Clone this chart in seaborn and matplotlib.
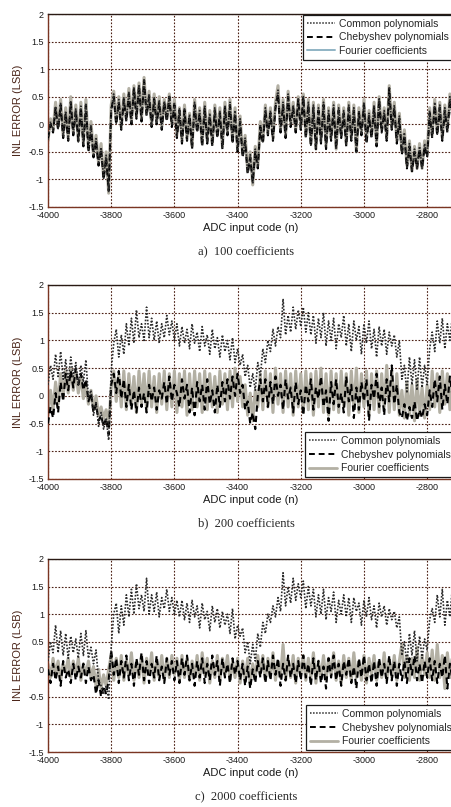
import numpy as np
import pandas as pd
import matplotlib
matplotlib.use("Agg")
import matplotlib.pyplot as plt
import seaborn as sns
from matplotlib.lines import Line2D

# ---------------- data (INL error, LSB), sampled every 8 codes from -4000 to -2720 ----------------
codes = np.arange(-4000, -2719, 8)

a_fourier = [
    -0.30, 0.10, -0.10, 0.40, -0.05, 0.45, -0.20, 0.30, -0.25, 0.50,
    -0.15, 0.35, -0.30, 0.40, -0.35, 0.45, -0.45, 0.05, -0.55, -0.20,
    -0.70, -0.35, -0.95, -0.50, -1.25, 0.35, 0.60, 0.05, 0.50, -0.05,
    0.55, 0.10, 0.65, 0.05, 0.70, 0.15, 0.75, 0.10, 0.85, 0.20,
    0.60, 0.00, 0.55, 0.05, 0.50, -0.05, 0.45, 0.10, 0.55, 0.00,
    0.45, -0.20, 0.30, -0.30, 0.35, -0.25, 0.20, -0.40, 0.45, -0.10,
    0.30, -0.35, 0.40, -0.30, 0.25, -0.35, 0.35, -0.20, 0.30, -0.40,
    0.40, -0.15, 0.45, -0.30, 0.30, -0.45, 0.15, -0.55, -0.20, -0.85,
    -0.50, -1.10, -0.40, -0.75, 0.05, -0.30, 0.35, -0.15, 0.30, -0.25,
    0.40, 0.70, -0.10, 0.45, -0.20, 0.60, 0.00, 0.40, -0.10, 0.50,
    -0.05, 0.55, -0.20, 0.45, -0.35, 0.40, -0.45, 0.35, -0.30, 0.45,
    -0.40, 0.30, -0.25, 0.40, -0.45, 0.35, -0.20, 0.30, -0.35, 0.40,
    -0.25, 0.35, -0.50, 0.30, -0.15, 0.45, -0.30, 0.25, -0.20, 0.40,
    -0.35, 0.50, -0.10, 0.30, -0.25, 0.70, -0.05, 0.40, -0.30, 0.20,
    -0.50, -0.10, -0.75, -0.30, -0.85, -0.40, -0.80, -0.35, -0.80, -0.30,
    -0.55, 0.30, -0.20, 0.45, -0.15, 0.40, -0.25, 0.35, -0.10, 0.55,
    0.20]

a_cheb = [
    -0.25, 0.00, -0.15, 0.30, -0.10, 0.35, -0.25, 0.20, -0.30, 0.40,
    -0.20, 0.25, -0.30, 0.30, -0.40, 0.35, -0.50, -0.05, -0.60, -0.30,
    -0.75, -0.45, -1.00, -0.60, -1.20, 0.25, 0.50, 0.00, 0.40, -0.10,
    0.45, 0.05, 0.55, 0.00, 0.65, 0.10, 0.70, 0.05, 0.80, 0.15,
    0.50, -0.05, 0.45, 0.00, 0.40, -0.10, 0.40, 0.05, 0.50, -0.05,
    0.35, -0.25, 0.25, -0.35, 0.25, -0.30, 0.15, -0.45, 0.35, -0.15,
    0.20, -0.40, 0.30, -0.35, 0.15, -0.40, 0.25, -0.25, 0.20, -0.45,
    0.30, -0.20, 0.35, -0.35, 0.20, -0.50, 0.05, -0.60, -0.30, -0.90,
    -0.60, -1.05, -0.50, -0.80, -0.05, -0.35, 0.25, -0.20, 0.20, -0.30,
    0.30, 0.55, -0.15, 0.35, -0.25, 0.50, -0.05, 0.30, -0.15, 0.45,
    -0.10, 0.50, -0.25, 0.35, -0.40, 0.30, -0.45, 0.25, -0.35, 0.35,
    -0.45, 0.20, -0.30, 0.30, -0.45, 0.25, -0.25, 0.20, -0.40, 0.30,
    -0.30, 0.25, -0.50, 0.20, -0.20, 0.35, -0.35, 0.15, -0.25, 0.30,
    -0.40, 0.45, -0.15, 0.20, -0.30, 0.65, -0.10, 0.30, -0.35, 0.10,
    -0.55, -0.20, -0.80, -0.40, -0.85, -0.50, -0.80, -0.45, -0.80, -0.40,
    -0.60, 0.20, -0.25, 0.35, -0.20, 0.30, -0.30, 0.25, -0.15, 0.45,
    0.10]

a_common = [
    -0.28, 0.05, -0.12, 0.32, -0.08, 0.38, -0.22, 0.24, -0.28, 0.42,
    -0.18, 0.28, -0.32, 0.33, -0.38, 0.38, -0.48, -0.02, -0.58, -0.26,
    -0.72, -0.42, -0.98, -0.56, -1.22, 0.28, 0.55, 0.02, 0.45, -0.08,
    0.48, 0.08, 0.58, 0.02, 0.68, 0.12, 0.72, 0.08, 0.82, 0.18,
    0.55, -0.02, 0.48, 0.02, 0.44, -0.08, 0.42, 0.08, 0.52, -0.02,
    0.40, -0.22, 0.28, -0.32, 0.30, -0.28, 0.18, -0.42, 0.40, -0.12,
    0.25, -0.38, 0.35, -0.32, 0.20, -0.38, 0.30, -0.22, 0.25, -0.42,
    0.35, -0.18, 0.40, -0.32, 0.25, -0.48, 0.10, -0.58, -0.25, -0.88,
    -0.55, -1.08, -0.45, -0.78, 0.00, -0.32, 0.30, -0.18, 0.25, -0.28,
    0.35, 0.62, -0.12, 0.40, -0.22, 0.55, -0.02, 0.35, -0.12, 0.48,
    -0.08, 0.52, -0.22, 0.40, -0.38, 0.35, -0.45, 0.30, -0.32, 0.40,
    -0.42, 0.25, -0.28, 0.35, -0.45, 0.30, -0.22, 0.25, -0.38, 0.35,
    -0.28, 0.30, -0.50, 0.25, -0.18, 0.40, -0.32, 0.20, -0.22, 0.35,
    -0.38, 0.48, -0.12, 0.25, -0.28, 0.68, -0.08, 0.35, -0.32, 0.15,
    -0.52, -0.15, -0.78, -0.35, -0.85, -0.45, -0.80, -0.40, -0.80, -0.35,
    -0.58, 0.25, -0.22, 0.40, -0.18, 0.35, -0.28, 0.30, -0.12, 0.50,
    0.15]

b_common = ([0.20, 0.55, 0.30, 0.75, 0.35, 0.80, 0.30, 0.65, 0.25, 0.70, 0.35, 0.60, 0.20, 0.55, 0.25, 0.65]
            + [-0.05, 0.10, -0.35, -0.10, -0.55, -0.30, -0.60, -0.40, -0.80]
            + [0.45]
            + [0.95, 1.20, 0.70, 1.10, 0.75, 1.30, 0.90, 1.40, 0.95, 1.55, 1.05, 1.30, 1.00, 1.60, 1.05, 1.40, 1.00, 1.35, 0.95, 1.30, 1.05, 1.45, 1.10, 1.35, 1.00]
            + [1.30, 0.90, 1.25, 0.95, 1.20, 0.85, 1.30, 0.95, 1.15, 0.80, 1.25, 0.90, 1.10, 0.75, 1.20, 0.85, 1.05, 0.70, 1.10, 0.80, 1.00, 0.65, 1.05, 0.60, 0.85]
            + [0.55, 0.75, 0.35, 0.55, 0.15, 0.40, 0.10, 0.60, 0.35]
            + [0.85, 0.60, 1.00, 0.80, 1.20, 0.90, 1.25, 1.05, 1.75, 1.10, 1.45, 1.15, 1.60, 1.20, 1.55, 1.25]
            + [1.60, 1.15, 1.50, 1.10, 1.45, 0.95, 1.40, 1.05, 1.50, 0.90, 1.35, 1.00, 1.40, 0.85, 1.30, 1.05, 1.45, 0.90, 1.30, 0.80,
               1.35, 1.00, 1.25, 0.75, 1.30, 0.95, 1.35, 0.85, 1.20, 0.70, 1.25, 0.90, 1.20, 0.75, 1.15, 0.90, 1.10, 0.70, 1.00]
            + [0.30, 0.55, 0.05, 0.70, 0.20, 0.65, 0.10, 0.70, 0.15, 0.55, 0.20]
            + [0.85, 1.15, 0.80, 1.35, 0.95, 1.40, 0.85, 1.30, 1.00, 1.45])

b_cheb = ([-0.50, -0.20, -0.40, 0.05, -0.30, 0.25, -0.10, 0.40, 0.10, 0.45, 0.15, 0.50, 0.20, 0.40, 0.10, 0.30]
          + [-0.10, 0.05, -0.30, -0.15, -0.45, -0.35, -0.55, -0.40, -0.70]
          + [0.20]
          + [0.40, 0.05, 0.45, -0.05, 0.30, -0.20, 0.20, -0.25, 0.10, -0.30, 0.15, -0.20, 0.05, -0.30, 0.20, -0.10, 0.15, -0.25, 0.10, -0.05, 0.25, -0.15, 0.35, -0.10, 0.20]
          + [0.05, -0.20, 0.30, -0.05, 0.20, -0.30, 0.15, -0.35, 0.25, -0.10, 0.20, -0.25, 0.30, -0.15, 0.10, -0.30, 0.20, -0.20, 0.25, -0.10, 0.30, -0.05, 0.35, 0.00, 0.40]
          + [0.05, 0.20, -0.25, -0.10, -0.50, -0.30, -0.60, 0.00, 0.30]
          + [-0.10, 0.30, -0.20, 0.25, -0.15, 0.35, 0.00, 0.20, -0.25, 0.30, -0.05, 0.15, -0.30, 0.25, -0.15, 0.10]
          + [-0.35, 0.20, -0.10, 0.30, -0.25, 0.15, -0.05, 0.35, -0.20, 0.10, -0.45, 0.25, -0.15, 0.30, -0.20, 0.05, -0.30, 0.35, -0.10, 0.20,
             -0.40, 0.15, -0.25, 0.25, -0.10, 0.30, -0.45, 0.20, -0.05, 0.40, -0.20, 0.15, -0.35, 0.30, -0.10, 0.55, -0.15, 0.20, -0.30]
          + [-0.40, -0.15, -0.45, -0.20, -0.40, -0.10, -0.45, -0.25, -0.40, -0.15, -0.35]
          + [0.10, -0.20, 0.30, -0.10, 0.35, -0.25, 0.20, -0.15, 0.35, 0.00])

b_fourier = ([-0.35, 0.10, -0.25, 0.25, -0.15, 0.40, 0.00, 0.45, 0.05, 0.50, 0.10, 0.45, 0.05, 0.35, -0.05, 0.20]
             + [-0.15, 0.10, -0.25, 0.00, -0.35, -0.20, -0.40, -0.25, -0.55]
             + [0.15]
             + [0.45, -0.10, 0.40, -0.20, 0.45, -0.25, 0.40, -0.20, 0.35, -0.30, 0.45, -0.15, 0.40, -0.25, 0.45, -0.20, 0.35, -0.30, 0.40, -0.15, 0.45, -0.25, 0.40, -0.20, 0.45]
             + [-0.30, 0.40, -0.20, 0.45, -0.35, 0.40, -0.25, 0.45, -0.20, 0.40, -0.30, 0.45, -0.25, 0.40, -0.20, 0.35, -0.30, 0.45, -0.15, 0.40, -0.25, 0.45, -0.20, 0.50, -0.10]
             + [0.35, -0.20, 0.20, -0.35, 0.05, -0.45, 0.10, -0.20, 0.40]
             + [-0.25, 0.45, -0.20, 0.40, -0.30, 0.50, -0.15, 0.40, -0.30, 0.45, -0.20, 0.40, -0.35, 0.45, -0.20, 0.40]
             + [-0.30, 0.45, -0.25, 0.40, -0.35, 0.45, -0.20, 0.50, -0.30, 0.40, -0.35, 0.45, -0.25, 0.40, -0.30, 0.45, -0.20, 0.40, -0.35, 0.45,
                -0.25, 0.50, -0.30, 0.40, -0.20, 0.45, -0.35, 0.40, -0.25, 0.45, -0.30, 0.40, -0.20, 0.55, -0.30, 0.45, -0.25, 0.40, -0.35]
             + [0.10, -0.40, 0.25, -0.35, 0.20, -0.45, 0.30, -0.35, 0.15, -0.40, 0.20]
             + [-0.25, 0.45, -0.20, 0.40, -0.30, 0.45, -0.15, 0.40, -0.25, 0.35])

c_common = ([0.15, 0.50, 0.30, 0.80, 0.30, 0.70, 0.25, 0.65, 0.20, 0.60, 0.30, 0.55, 0.20, 0.65, 0.25, 0.70]
            + [0.20, 0.40, 0.10, 0.35, -0.20, -0.30, -0.45, -0.30, -0.55]
            + [0.40]
            + [1.00, 1.20, 0.65, 1.15, 0.80, 1.35, 0.95, 1.45, 1.00, 1.55, 1.10, 1.35, 1.05, 1.65, 1.00, 1.35, 1.05, 1.40, 0.95, 1.30, 1.10, 1.45, 1.05, 1.30, 1.00]
            + [1.25, 0.95, 1.25, 0.90, 1.20, 0.85, 1.25, 0.95, 1.15, 0.75, 1.20, 0.90, 1.05, 0.70, 1.15, 0.85, 1.10, 0.75, 1.05, 0.80, 1.00, 0.65, 1.10, 0.55, 0.80]
            + [0.60, 0.75, 0.30, 0.50, 0.10, 0.45, 0.15, 0.65, 0.40]
            + [0.85, 0.65, 1.00, 0.85, 1.15, 0.95, 1.30, 1.05, 1.75, 1.15, 1.50, 1.20, 1.65, 1.25, 1.55, 1.30]
            + [1.60, 1.10, 1.50, 1.15, 1.45, 0.95, 1.35, 1.00, 1.45, 0.90, 1.30, 1.05, 1.40, 0.85, 1.25, 1.00, 1.35, 0.95, 1.30, 0.85,
               1.30, 1.05, 1.20, 0.80, 1.25, 0.95, 1.30, 0.90, 1.15, 0.75, 1.20, 0.95, 1.15, 0.80, 1.10, 0.90, 1.05, 0.75, 0.95]
            + [0.25, 0.50, 0.10, 0.65, 0.25, 0.70, 0.15, 0.60, 0.20, 0.55, 0.35]
            + [0.90, 1.10, 0.85, 1.35, 0.95, 1.45, 0.80, 1.25, 0.95, 1.50])

c_cheb = ([0.00, -0.25, 0.10, -0.20, 0.05, -0.30, 0.15, -0.15, 0.00, -0.25, 0.10, -0.20, 0.05, -0.15, 0.10, -0.25]
          + [0.05, -0.20, -0.10, -0.45, -0.20, -0.50, -0.30, -0.45, -0.20]
          + [0.35]
          + [-0.10, 0.20, -0.25, 0.15, -0.15, 0.25, -0.20, 0.10, -0.30, 0.20, -0.10, 0.30, -0.20, 0.15, -0.25, 0.10, -0.15, 0.25, -0.20, 0.05, -0.25, 0.20, -0.10, 0.15, -0.20]
          + [0.15, -0.25, 0.20, -0.10, 0.25, -0.20, 0.10, -0.30, 0.15, -0.15, 0.20, -0.25, 0.10, -0.20, 0.25, -0.10, 0.15, -0.30, 0.20, -0.15, 0.10, -0.25, 0.20, -0.10, 0.15]
          + [-0.20, 0.10, -0.30, 0.05, -0.35, 0.00, -0.25, 0.15, -0.15]
          + [0.20, -0.25, 0.15, -0.20, 0.25, -0.10, 0.20, -0.30, 0.10, -0.20, 0.25, -0.15, 0.10, -0.25, 0.15, -0.20]
          + [0.25, -0.15, 0.10, -0.30, 0.20, -0.20, 0.15, -0.25, 0.05, -0.35, 0.20, -0.15, 0.25, -0.20, 0.10, -0.30, 0.15, -0.10, 0.20, -0.25,
             0.05, -0.35, 0.20, -0.15, 0.25, -0.20, 0.10, -0.25, 0.15, -0.30, 0.20, -0.15, 0.10, -0.25, 0.25, -0.20, 0.15, -0.30, 0.10]
          + [-0.20, 0.15, -0.25, 0.20, -0.10, 0.25, -0.20, 0.10, -0.25, 0.15, -0.15]
          + [0.20, -0.20, 0.15, -0.25, 0.10, -0.15, 0.25, -0.35, 0.10, -0.20])

c_fourier = ([0.10, -0.15, 0.20, -0.10, 0.15, -0.20, 0.10, -0.05, 0.20, -0.15, 0.15, -0.10, 0.20, -0.20, 0.10, -0.10]
             + [0.15, -0.15, 0.05, -0.30, 0.00, -0.35, -0.10, -0.30, 0.00]
             + [0.25]
             + [-0.20, 0.20, -0.15, 0.25, -0.20, 0.15, -0.10, 0.30, -0.20, 0.15, -0.15, 0.25, -0.25, 0.20, -0.10, 0.30, -0.20, 0.15, -0.15, 0.25, -0.20, 0.20, -0.15, 0.25, -0.10]
             + [0.20, -0.20, 0.25, -0.15, 0.20, -0.20, 0.15, -0.15, 0.25, -0.20, 0.30, -0.10, 0.20, -0.25, 0.15, -0.15, 0.25, -0.20, 0.20, -0.10, 0.25, -0.20, 0.15, -0.15, 0.20]
             + [-0.25, 0.15, -0.20, 0.20, -0.25, 0.10, -0.15, 0.25, -0.10]
             + [0.25, -0.20, 0.20, -0.15, 0.30, -0.20, 0.15, -0.15, 0.45, -0.20, 0.20, -0.15, 0.25, -0.25, 0.20, -0.10]
             + [0.25, -0.20, 0.20, -0.15, 0.30, -0.25, 0.15, -0.15, 0.25, -0.20, 0.20, -0.10, 0.30, -0.20, 0.15, -0.25, 0.25, -0.15, 0.20, -0.20,
                0.30, -0.15, 0.15, -0.20, 0.25, -0.25, 0.20, -0.10, 0.25, -0.20, 0.15, -0.15, 0.30, -0.20, 0.20, -0.15, 0.25, -0.20, 0.15]
             + [0.45, -0.15, 0.25, -0.20, 0.20, -0.15, 0.40, -0.20, 0.25, -0.10, 0.30]
             + [-0.15, 0.35, -0.20, 0.45, -0.15, 0.25, -0.35, 0.30, -0.15, 0.25])

series_names = ["Common polynomials", "Chebyshev polynomials", "Fourier coefficients"]
captions = ["a)  100 coefficients", "b)  200 coefficients", "c)  2000 coefficients"]
x_ticks = [-4000, -3800, -3600, -3400, -3200, -3000, -2800]
y_ticks = [-1.5, -1, -0.5, 0, 0.5, 1, 1.5, 2]
y_tick_labels = ["-1.5", "-1", "-0.5", "0", "0.5", "1", "1.5", "2"]

panels = [
    (a_common, a_cheb, a_fourier),
    (b_common, b_cheb, b_fourier),
    (c_common, c_cheb, c_fourier),
]

# ---------------- style ----------------
sns.set_style("white")
plt.rcParams["font.family"] = ["Liberation Sans", "DejaVu Sans"]

W, H = 452, 807
fig = plt.figure(figsize=(W / 100, H / 100), dpi=100)

# (top px, bottom px) of each axes box
boxes = [(14, 207), (285, 479), (559, 752)]
caption_y = [252, 523, 797]
legend_spec = [("upper left", (303, 15)), ("lower left", (305, 477)), ("lower left", (306, 750))]

col_common = "#2b2b2b"
col_cheb = "#000000"
col_four = "#b3b0a4"
spine_col = "#7a3522"
grid_col = "#4a1e12"

for k, (common, cheb, four) in enumerate(panels):
    top, bot = boxes[k]
    ax = fig.add_axes([48 / W, 1 - bot / H, 406 / W, (bot - top) / H])
    df = pd.DataFrame({"code": codes, "common": common, "cheb": cheb, "four": four})

    sns.lineplot(data=df, x="code", y="four", ax=ax, color=col_four, lw=2.2,
                 estimator=None, sort=False, zorder=2)
    sns.lineplot(data=df, x="code", y="cheb", ax=ax, color=col_cheb, lw=1.5,
                 linestyle=(0, (3, 2)), estimator=None, sort=False, zorder=3)
    sns.lineplot(data=df, x="code", y="common", ax=ax, color=col_common, lw=1.2,
                 linestyle=(0, (1, 1)), estimator=None, sort=False, zorder=4)

    ax.set_xlim(-4000, -2715)
    ax.set_ylim(-1.5, 2)
    ax.set_xticks(x_ticks)
    ax.set_xticklabels([str(t) for t in x_ticks])
    ax.set_yticks(y_ticks)
    ax.set_yticklabels(y_tick_labels)
    ax.tick_params(direction="in", length=3, width=0.6, labelsize=6.5,
                   colors="#1a1a1a")
    ax.tick_params(axis="x", pad=3)
    ax.tick_params(axis="y", pad=3)
    ax.grid(True, linestyle=(0, (1.5, 1.5)), color=grid_col, lw=0.8)
    for s in ax.spines.values():
        s.set_color(spine_col)
        s.set_linewidth(1.0)
    ax.spines["top"].set_color("#2a1a14")

    ax.set_xlabel("ADC input code (n)", fontsize=8, labelpad=2, color="#1a1a1a")
    ax.set_ylabel("INL ERROR (LSB)", fontsize=8, labelpad=4, color="#4a2418")

    handles = [
        Line2D([], [], color=col_common, lw=1.1, linestyle=(0, (1, 1))),
        Line2D([], [], color=col_cheb, lw=1.4, linestyle=(0, (3, 2))),
        Line2D([], [], color=col_four if k else "#8fb3c4", lw=1.4 if k == 0 else 2.0),
    ]
    loc, (lx, ly) = legend_spec[k]
    leg = ax.legend(handles, series_names, loc=loc, bbox_to_anchor=(lx / W, 1 - ly / H),
                    bbox_transform=fig.transFigure, fontsize=7.5, frameon=True,
                    fancybox=False, framealpha=1, edgecolor="#1a1a1a",
                    borderpad=0.35, labelspacing=0.35, handlelength=2.7,
                    handletextpad=0.4, borderaxespad=0)
    leg.get_frame().set_linewidth(0.9)

    fig.text(246 / W, 1 - caption_y[k] / H, captions[k], ha="center", va="center",
             fontsize=9, family=["Liberation Serif", "DejaVu Serif"])

fig.savefig("out.png", dpi=100)
